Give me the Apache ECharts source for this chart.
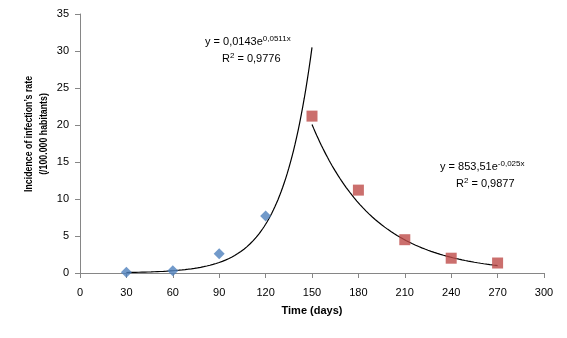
<!DOCTYPE html>
<html>
<head>
<meta charset="utf-8">
<script src="https://cdn.jsdelivr.net/npm/echarts@6/dist/echarts.min.js"></script>
<style>
  html, body { margin: 0; padding: 0; background: #fff; }
  #chart { width: 567px; height: 338px; }
</style>
</head>
<body>
<div id="chart"></div>
<script>
// observed incidence, before and after the peak
const riseDays = [30, 60, 90, 120];
const riseRate = [0.1, 0.3, 2.6, 7.7];
const fallDays = [150, 180, 210, 240, 270];
const fallRate = [21.2, 11.2, 4.5, 2.0, 1.35];

// exponential trendlines as printed on the chart: y = a * e^(b x)
const riseFit = { a: 0.0143, b: 0.0511, from: 30, to: 150 };
const fallFit = { a: 853.51, b: -0.025, from: 150, to: 270 };

const xTicks = [0, 30, 60, 90, 120, 150, 180, 210, 240, 270, 300];
const yTicks = [0, 5, 10, 15, 20, 25, 30, 35];

function trend(fit) {
  const pts = [];
  for (let x = fit.from; x <= fit.to; x += 1) {
    pts.push([x, fit.a * Math.exp(fit.b * x)]);
  }
  return pts;
}

const font = "Liberation Sans";
const axisGray = "#868686";

const chart = echarts.init(document.getElementById("chart"));

const eqStyle = {
  fontFamily: font,
  rich: {
    t: { fontSize: 11, fontFamily: font, color: "#000" },
    s: { fontSize: 8, fontFamily: font, color: "#000", verticalAlign: "top", padding: [0, 0, 6, 0] }
  }
};

chart.setOption({
  animation: false,
  grid: { left: 80, right: 23, top: 14, bottom: 65 },
  xAxis: {
    type: "value",
    min: xTicks[0], max: xTicks[xTicks.length - 1], interval: xTicks[1] - xTicks[0],
    name: "Time (days)",
    nameLocation: "middle",
    nameGap: 32,
    nameTextStyle: { fontFamily: font, fontSize: 11, fontWeight: "bold", color: "#000" },
    axisLine: { lineStyle: { color: axisGray } },
    axisTick: { length: 5, lineStyle: { color: axisGray } },
    axisLabel: { fontFamily: font, fontSize: 11, color: "#000", margin: 14 },
    splitLine: { show: false }
  },
  yAxis: {
    type: "value",
    min: yTicks[0], max: yTicks[yTicks.length - 1], interval: yTicks[1] - yTicks[0],
    axisLine: { show: true, lineStyle: { color: axisGray } },
    axisTick: { show: true, length: 5, lineStyle: { color: axisGray } },
    axisLabel: { fontFamily: font, fontSize: 11, color: "#000", margin: 11 },
    splitLine: { show: false }
  },
  series: [
    {
      type: "line",
      data: trend(riseFit),
      showSymbol: false,
      lineStyle: { color: "#000", width: 1.2 },
      z: 1
    },
    {
      type: "line",
      data: trend(fallFit),
      showSymbol: false,
      lineStyle: { color: "#000", width: 1.2 },
      z: 1
    },
    {
      type: "scatter",
      data: riseDays.map((d, i) => [d, riseRate[i]]),
      symbol: "diamond",
      symbolSize: 11,
      itemStyle: { color: "#4F81BD" },
      z: 2
    },
    {
      type: "scatter",
      data: fallDays.map((d, i) => [d, fallRate[i]]),
      symbol: "rect",
      symbolSize: 11,
      itemStyle: { color: "#BE4B48" },
      z: 2
    }
  ],
  graphic: [
    {
      type: "text", x: 36, y: 134, rotation: Math.PI / 2, scaleX: 0.8,
      style: {
        text: "Incidence of infection\u2019s rate\n(/100.000 habitants)",
        fontFamily: font, fontSize: 11, fontWeight: "bold", fill: "#000",
        align: "center", verticalAlign: "middle", lineHeight: 15
      }
    },
    {
      type: "text", left: 205, top: 35,
      style: Object.assign({ text: "{t|y = 0,0143e}{s|0,0511x}" }, eqStyle)
    },
    {
      type: "text", left: 222, top: 52,
      style: Object.assign({ text: "{t|R}{s|2}{t| = 0,9776}" }, eqStyle)
    },
    {
      type: "text", left: 440, top: 160,
      style: Object.assign({ text: "{t|y = 853,51e}{s|-0,025x}" }, eqStyle)
    },
    {
      type: "text", left: 456, top: 177,
      style: Object.assign({ text: "{t|R}{s|2}{t| = 0,9877}" }, eqStyle)
    }
  ]
});
</script>
</body>
</html>
